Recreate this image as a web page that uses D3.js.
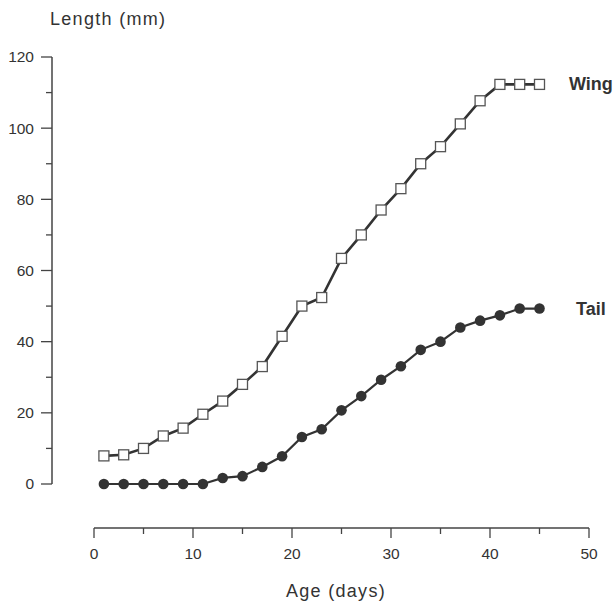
<!DOCTYPE html>
<html><head><meta charset="utf-8">
<script src="https://cdn.jsdelivr.net/npm/d3@7"></script>
<style>body{margin:0;background:#fff}svg{display:block}</style>
</head><body>
<svg id="c" width="615" height="603"></svg>
<script>
const ages = [1,3,5,7,9,11,13,15,17,19,21,23,25,27,29,31,33,35,37,39,41,43,45];
const wing = [7.9,8.2,10,13.5,15.7,19.6,23.3,28,33,41.5,50,52.4,63.4,70,77,83,90,94.8,101.2,107.7,112.3,112.3,112.3];
const tail = [0,0,0,0,0,0,1.7,2.2,4.8,7.8,13.2,15.4,20.7,24.7,29.3,33.1,37.7,40,44,45.9,47.4,49.3,49.3];
const xTicks = [0,10,20,30,40,50];
const xMinor = [5,15,25,35,45];
const yTicks = [0,20,40,60,80,100,120];
const yMinor = [10,30,50,70,90,110];

const svg = d3.select("#c");
const x = d3.scaleLinear().domain([0,50]).range([94,589]);
const y = d3.scaleLinear().domain([0,120]).range([484,57]);
const axisCol = "#444", txtCol = "#333";
const font = "'Liberation Sans', Arial, sans-serif";

// y axis
const ya = svg.append("g").attr("transform","translate(52,0)");
ya.append("line").attr("y1",y(0)).attr("y2",y(120)).attr("stroke",axisCol).attr("stroke-width",1.5);
ya.selectAll(".ymaj").data(yTicks).join("line").attr("x1",-11).attr("x2",0).attr("y1",d=>y(d)).attr("y2",d=>y(d)).attr("stroke",axisCol).attr("stroke-width",1.3);
ya.selectAll(".ymin").data(yMinor).join("line").attr("x1",-6).attr("x2",0).attr("y1",d=>y(d)).attr("y2",d=>y(d)).attr("stroke",axisCol).attr("stroke-width",1.3);
ya.selectAll("text").data(yTicks).join("text").attr("x",-18).attr("y",d=>y(d)).attr("dy","0.35em")
  .attr("text-anchor","end").attr("font-family",font).attr("font-size",15.5).attr("fill",txtCol).text(d=>d);

// x axis
const xa = svg.append("g").attr("transform","translate(0,528)");
xa.append("line").attr("x1",x(0)).attr("x2",x(50)).attr("stroke",axisCol).attr("stroke-width",1.5);
xa.selectAll(".xmaj").data(xTicks).join("line").attr("x1",d=>x(d)).attr("x2",d=>x(d)).attr("y1",0).attr("y2",10).attr("stroke",axisCol).attr("stroke-width",1.3);
xa.selectAll(".xmin").data(xMinor).join("line").attr("x1",d=>x(d)).attr("x2",d=>x(d)).attr("y1",0).attr("y2",6).attr("stroke",axisCol).attr("stroke-width",1.3);
xa.selectAll("text").data(xTicks).join("text").attr("x",d=>x(d)).attr("y",31)
  .attr("text-anchor","middle").attr("font-family",font).attr("font-size",15.5).attr("fill",txtCol).text(d=>d);

// titles
svg.append("text").attr("x",50).attr("y",25).attr("font-family",font).attr("font-size",18).attr("letter-spacing",1.3).attr("fill",txtCol).text("Length (mm)");
svg.append("text").attr("x",336).attr("y",597).attr("text-anchor","middle").attr("font-family",font).attr("font-size",18).attr("letter-spacing",1.3).attr("fill",txtCol).text("Age (days)");

const line = d3.line().x(d=>x(d[0])).y(d=>y(d[1]));
const wingPts = ages.map((a,i)=>[a,wing[i]]);
const tailPts = ages.map((a,i)=>[a,tail[i]]);

svg.append("path").datum(wingPts).attr("d",line).attr("fill","none").attr("stroke","#333").attr("stroke-width",2.6);
svg.append("path").datum(tailPts).attr("d",line).attr("fill","none").attr("stroke","#333").attr("stroke-width",2.2);

svg.selectAll(".sq").data(wingPts).join("rect").attr("x",d=>x(d[0])-5).attr("y",d=>y(d[1])-5).attr("width",10).attr("height",10)
  .attr("fill","#fff").attr("stroke","#555").attr("stroke-width",1.3);
svg.selectAll(".ci").data(tailPts).join("circle").attr("cx",d=>x(d[0])).attr("cy",d=>y(d[1])).attr("r",5.3).attr("fill","#333");

const lab = "'Liberation Sans Narrow', 'Liberation Sans', Arial, sans-serif";
svg.append("text").attr("x",569).attr("y",y(wing[22])+6).attr("font-family",lab).attr("font-weight","bold").attr("font-size",18).attr("fill","#333").text("Wing");
svg.append("text").attr("x",576).attr("y",y(tail[22])+6).attr("font-family",lab).attr("font-weight","bold").attr("font-size",18).attr("fill","#333").text("Tail");
</script>
</body></html>
